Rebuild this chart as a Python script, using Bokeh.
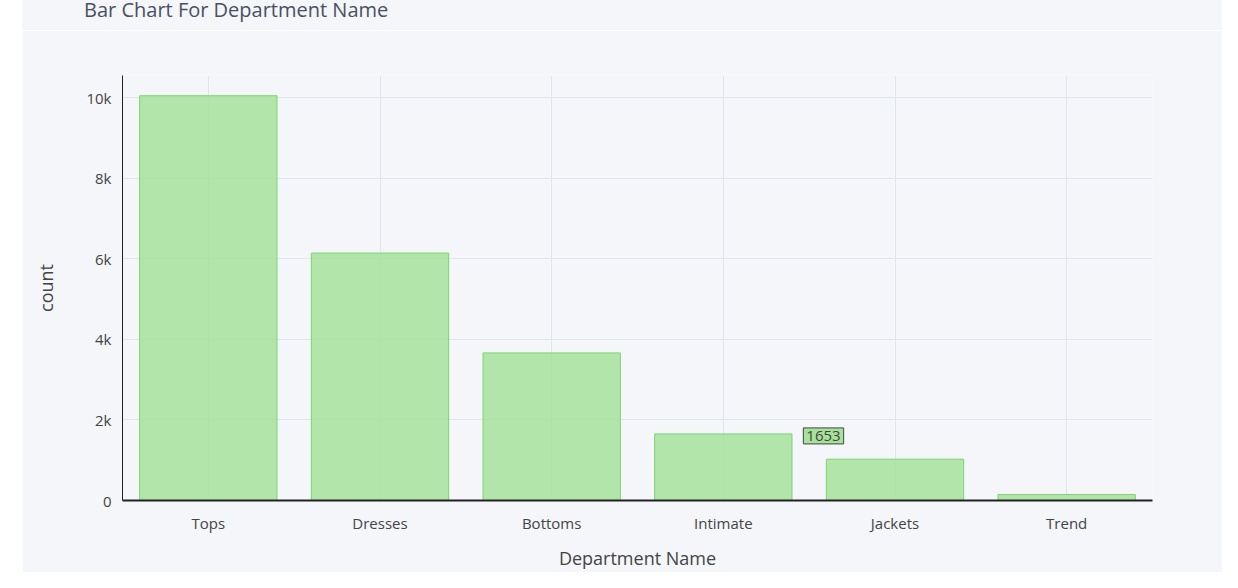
from bokeh.plotting import figure
from bokeh.models import Div, Spacer, Label, NumeralTickFormatter, FactorRange
from bokeh.layouts import row, column
from bokeh.embed import file_html
from bokeh.resources import INLINE

departments = ["Tops", "Dresses", "Bottoms", "Intimate", "Jackets", "Trend"]
counts = [10048, 6143, 3664, 1653, 1026, 148]

BG = "#f4f6fa"
FONT = "Open Sans"
TXT = "#444444"

title = Div(
    text="Bar Chart For Department Name",
    width=1200, height=30, margin=(0, 0, 0, 0),
    styles={"background-color": BG, "font-family": FONT, "font-size": "20px",
            "color": "#4a5060", "padding-left": "62px", "line-height": "20px",
            "box-sizing": "border-box", "overflow": "visible"},
)

p = figure(
    x_range=FactorRange(*departments), y_range=(0, 10550),
    width=1200, height=542, margin=(0, 0, 0, 0),
    output_backend="svg", toolbar_location=None,
    min_border_left=100, min_border_right=70, min_border_top=45, min_border_bottom=65,
    background_fill_color=BG, border_fill_color=BG,
)
p.outline_line_color = None
p.vbar(x=departments, top=counts, width=0.8,
       fill_color="#a6e29a", fill_alpha=0.85, line_color="#7fd474", line_width=1)

p.xaxis.axis_label = "Department Name"
p.yaxis.axis_label = "count"
p.yaxis.ticker = [0, 2000, 4000, 6000, 8000, 10000]
p.yaxis.formatter = NumeralTickFormatter(format="0a")
for ax in (p.xaxis, p.yaxis):
    ax.axis_label_text_font = FONT
    ax.axis_label_text_font_size = "18px"
    ax.axis_label_text_font_style = "normal"
    ax.axis_label_text_color = TXT
    ax.major_label_text_font = FONT
    ax.major_label_text_font_size = "15px"
    ax.major_label_text_color = TXT
    ax.major_tick_line_color = None
    ax.minor_tick_line_color = None
    ax.axis_line_color = "#222222"
    ax.axis_line_width = 2
p.yaxis.axis_line_width = 1
p.yaxis.axis_label_standoff = 25
p.xaxis.axis_label_standoff = 10
p.xaxis.major_label_standoff = 6
p.grid.grid_line_color = "#e1e5ed"
p.grid.grid_line_width = 1

# hover-style labels for the Intimate bar
p.add_layout(Label(x=3.5, y=counts[3], x_offset=80, y_offset=-10, text=str(counts[3]),
                   text_font=FONT, text_font_size="15px", text_color=TXT,
                   background_fill_color="#a6e29a", border_line_color="#444444",
                   padding=3, level="overlay"))
p.add_layout(Label(x=3.5, y=0, y_offset=-33, text=departments[3], text_align="center",
                   text_font=FONT, text_font_size="15px", text_color="white",
                   background_fill_color="#444444", padding=4, level="overlay"))

layout = row(Spacer(width=22, height=572, margin=(0, 0, 0, 0)),
             column(title, p, spacing=0), spacing=0)
open("out.html", "w").write(file_html(layout, INLINE))
